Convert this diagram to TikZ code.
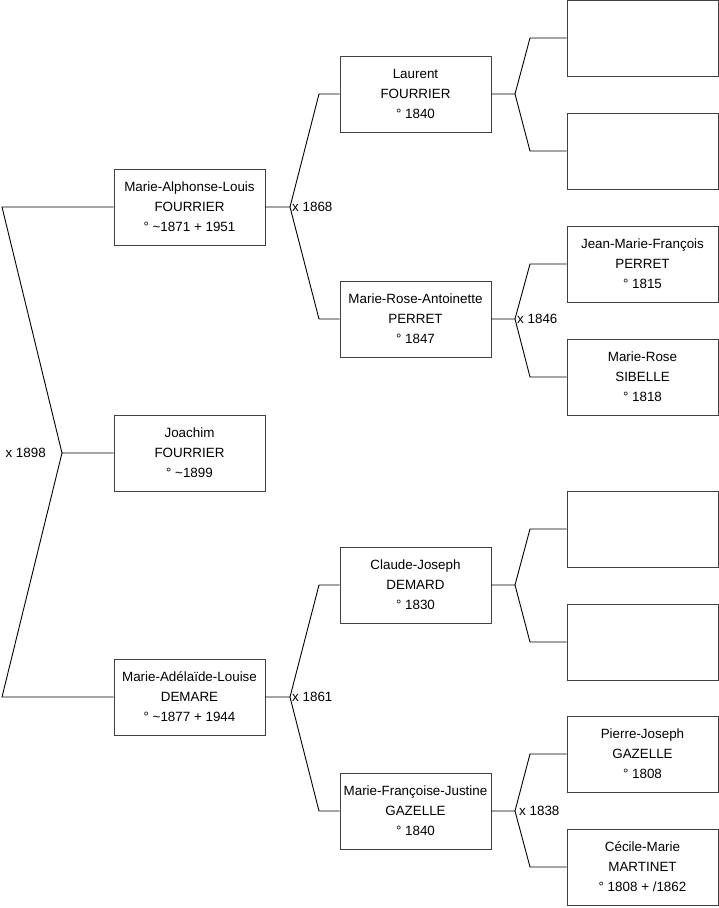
\documentclass[tikz,border=0pt]{standalone}
\usepackage{fontspec}
\setmainfont{Liberation Sans}
\usepackage{tikz}
\usetikzlibrary{positioning,calc}

\begin{document}
\begin{tikzpicture}[
  x=1pt, y=-1pt,
  person/.style={
    draw=black!75, rectangle, line width=0.9pt,
    minimum width=151pt, minimum height=76pt, inner sep=2pt,
    align=center, font=\fontsize{13.4}{20}\selectfont
  },
  lnk/.style={draw=black, line width=0.9pt},
  marr/.style={font=\fontsize{13.4}{15}\selectfont, inner sep=2pt},
]
\useasboundingbox (0,0) rectangle (719,908);

%% generation 1
\node[person] (joachim) at (189.5,453)
  {Joachim\\FOURRIER\\° \textasciitilde 1899};

%% generation 2
\node[person] (malouis) at (189.5,207)
  {Marie-Alphonse-Louis\\FOURRIER\\° \textasciitilde 1871 + 1951};
\node[person] (madelaide) at (189.5,697)
  {Marie-Adélaïde-Louise\\DEMARE\\° \textasciitilde 1877 + 1944};

%% generation 3
\node[person] (laurent) at (415.5,94)
  {Laurent\\FOURRIER\\° 1840};
\node[person] (mrose) at (415.5,319)
  {Marie-Rose-Antoinette\\PERRET\\° 1847};
\node[person] (cjoseph) at (415.5,585)
  {Claude-Joseph\\DEMARD\\° 1830};
\node[person] (mfjustine) at (415.5,811)
  {Marie-Françoise-Justine\\GAZELLE\\° 1840};

%% generation 4
\node[person] (lfather) at (642.5,38) {};
\node[person] (lmother) at (642.5,151) {};
\node[person] (jmfrancois) at (642.5,264)
  {Jean-Marie-François\\PERRET\\° 1815};
\node[person] (mrsibelle) at (642.5,377)
  {Marie-Rose\\SIBELLE\\° 1818};
\node[person] (cfather) at (642.5,529) {};
\node[person] (cmother) at (642.5,642) {};
\node[person] (pjoseph) at (642.5,754)
  {Pierre-Joseph\\GAZELLE\\° 1808};
\node[person] (cmarie) at (642.5,867)
  {Cécile-Marie\\MARTINET\\° 1808 + /1862};

%% forks
\coordinate (fj) at (62,453);
\coordinate (fjup) at (2,207);
\coordinate (fjdn) at (2,697);
\coordinate (fm) at (290,207);
\coordinate (fmup) at (319,94);
\coordinate (fmdn) at (319,319);
\coordinate (fa) at (290,697);
\coordinate (faup) at (319,585);
\coordinate (fadn) at (319,811);
\coordinate (fl) at (515,94);
\coordinate (flup) at (530,38);
\coordinate (fldn) at (530,151);
\coordinate (fr) at (515,319);
\coordinate (frup) at (530,264);
\coordinate (frdn) at (530,377);
\coordinate (fc) at (515,585);
\coordinate (fcup) at (530,529);
\coordinate (fcdn) at (530,642);
\coordinate (ff) at (515,811);
\coordinate (ffup) at (530,754);
\coordinate (ffdn) at (530,867);

%% Joachim -> parents
\draw[lnk] (joachim.west) -- (fj) -- (fjup) -- (malouis.west);
\draw[lnk] (fj) -- (fjdn) -- (madelaide.west);
\node[marr, left=14pt of fj] {x 1898};

%% Marie-Alphonse-Louis -> parents
\draw[lnk] (malouis.east) -- (fm) -- (fmup) -- (laurent.west);
\draw[lnk] (fm) -- (fmdn) -- (mrose.west);
\node[marr, right=0pt of fm] {x 1868};

%% Marie-Adelaide-Louise -> parents
\draw[lnk] (madelaide.east) -- (fa) -- (faup) -- (cjoseph.west);
\draw[lnk] (fa) -- (fadn) -- (mfjustine.west);
\node[marr, right=0pt of fa] {x 1861};

%% generation 3 -> parents
\draw[lnk] (laurent.east) -- (fl) -- (flup) -- (lfather.west);
\draw[lnk] (fl) -- (fldn) -- (lmother.west);

\draw[lnk] (mrose.east) -- (fr) -- (frup) -- (jmfrancois.west);
\draw[lnk] (fr) -- (frdn) -- (mrsibelle.west);
\node[marr, right=0pt of fr] {x 1846};

\draw[lnk] (cjoseph.east) -- (fc) -- (fcup) -- (cfather.west);
\draw[lnk] (fc) -- (fcdn) -- (cmother.west);

\draw[lnk] (mfjustine.east) -- (ff) -- (ffup) -- (pjoseph.west);
\draw[lnk] (ff) -- (ffdn) -- (cmarie.west);
\node[marr, right=2pt of ff] {x 1838};
\end{tikzpicture}
\end{document}
